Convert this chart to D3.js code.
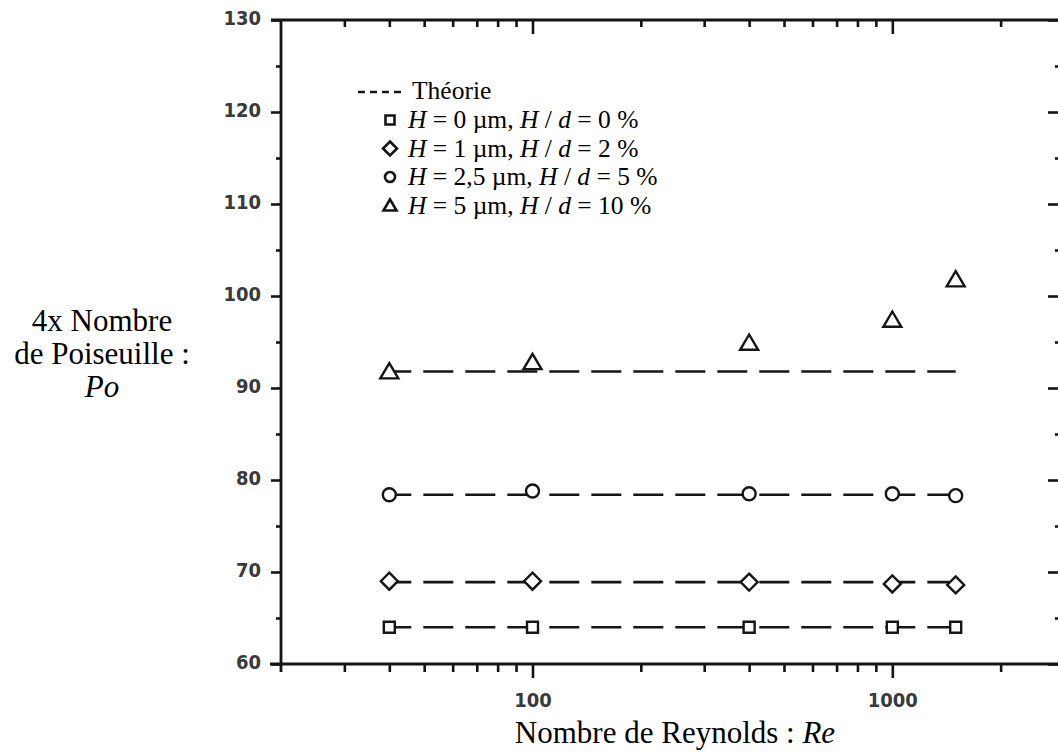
<!DOCTYPE html>
<html>
<head>
<meta charset="utf-8">
<script src="https://cdn.jsdelivr.net/npm/d3@7"></script>
<style>
  html, body { margin: 0; padding: 0; background: #fff; }
  svg { display: block; }
  .tick-label { font-family: "DejaVu Sans Condensed", "DejaVu Sans", sans-serif; font-stretch: condensed; font-weight: bold; font-size: 20px; fill: #3a3a3a; }
  .serif { font-family: "Liberation Serif", "Times New Roman", serif; fill: #000; }
</style>
</head>
<body>
<svg id="chart" width="1058" height="753"></svg>
<script>
// Reynolds numbers at which Po was measured
const reynolds = [40, 100, 400, 1000, 1500];
// Measured 4xPo for each roughness height
const poH0  = [64.0, 64.0, 64.0, 64.0, 64.0];
const poH1  = [69.0, 69.0, 68.9, 68.7, 68.6];
const poH25 = [78.4, 78.8, 78.5, 78.5, 78.3];
const poH5  = [91.8, 92.8, 94.9, 97.4, 101.8];
// Theoretical (laminar) values, drawn as dashed lines over the measured range
const theoryPo = [64.0, 68.9, 78.4, 91.8];
const theoryRe = [40, 1500];
// Axis ticks
const yMajorTicks = [60, 70, 80, 90, 100, 110, 120, 130];
const yMinorTicks = [65, 75, 85, 95, 105, 115, 125];
const xMajorTicks = [100, 1000];
const xMinorTicks = [30, 40, 50, 60, 70, 80, 90, 200, 300, 400, 500, 600, 700, 800, 900, 2000];
// Legend text (italic parts flagged)
const legendTheory = "Théorie";
const legendSeries = [
  [["H", 1], [" = 0 µm, ", 0], ["H", 1], [" / ", 0], ["d", 1], [" = 0 %", 0]],
  [["H", 1], [" = 1 µm, ", 0], ["H", 1], [" / ", 0], ["d", 1], [" = 2 %", 0]],
  [["H", 1], [" = 2,5 µm, ", 0], ["H", 1], [" / ", 0], ["d", 1], [" = 5 %", 0]],
  [["H", 1], [" = 5 µm, ", 0], ["H", 1], [" / ", 0], ["d", 1], [" = 10 %", 0]]
];
const yTitleLines = [[["4x Nombre", 0]], [["de Poiseuille :", 0]], [["Po", 1]]];
const xTitle = [["Nombre de Reynolds : ", 0], ["Re", 1]];

const svg = d3.select("#chart");
const INK = "#151515";

const x = d3.scaleLog().domain([20, 3000]).range([281, 1064]);
const y = d3.scaleLinear().domain([60, 130]).range([664, 20]);

// ---- marker shapes (custom d3 symbol types, size = half-width in px)
const shapes = {
  square: { draw(ctx, r) { ctx.rect(-r, -r, 2 * r, 2 * r); } },
  diamond: { draw(ctx, r) { ctx.moveTo(0, -r); ctx.lineTo(r, 0); ctx.lineTo(0, r); ctx.lineTo(-r, 0); ctx.closePath(); } },
  circle: { draw(ctx, r) { ctx.moveTo(r, 0); ctx.arc(0, 0, r, 0, 2 * Math.PI); } },
  triangle: { draw(ctx, r) { const h = r * 1.7; ctx.moveTo(0, -h * 0.55); ctx.lineTo(r, h * 0.45); ctx.lineTo(-r, h * 0.45); ctx.closePath(); } }
};
const symbolPath = (type, r) => d3.symbol().type(shapes[type]).size(r)();

const series = [
  { values: poH0, shape: "square", r: 5.5, lr: 4.5 },
  { values: poH1, shape: "diamond", r: 8.5, lr: 7 },
  { values: poH25, shape: "circle", r: 6.5, lr: 5 },
  { values: poH5, shape: "triangle", r: 9, lr: 6.5 }
];

// ---- theory lines
const line = d3.line().x(d => x(d[0])).y(d => y(d[1]));
svg.append("g").selectAll("path").data(theoryPo).join("path")
  .attr("d", v => line(theoryRe.map(re => [re, v])))
  .attr("fill", "none").attr("stroke", INK).attr("stroke-width", 2.6)
  .attr("stroke-dasharray", "30,12").attr("stroke-dashoffset", 8);

// ---- measured points
series.forEach(s => {
  svg.append("g").selectAll("path").data(reynolds.map((re, i) => [re, s.values[i]])).join("path")
    .attr("transform", d => `translate(${x(d[0])},${y(d[1])})`)
    .attr("d", symbolPath(s.shape, s.r))
    .attr("fill", "#fff").attr("stroke", INK).attr("stroke-width", 2.4);
});

// ---- axes
function styleAxis(g) {
  g.select(".domain").remove();
  g.selectAll(".tick line").attr("stroke", INK).attr("stroke-width", 2.6);
}
// left
svg.append("g").attr("transform", "translate(281,0)")
  .call(d3.axisLeft(y).tickValues(yMajorTicks).tickSize(10).tickPadding(10).tickFormat(d3.format("d")))
  .call(styleAxis)
  .call(g => g.selectAll("text").attr("class", "tick-label").attr("dy", "0.22em"));
svg.append("g").attr("transform", "translate(281,0)")
  .call(d3.axisLeft(y).tickValues(yMinorTicks).tickSize(5).tickFormat(""))
  .call(styleAxis);
// right (inward ticks)
svg.append("g").attr("transform", "translate(1064,0)")
  .call(d3.axisRight(y).tickValues(yMajorTicks).tickSize(-16).tickFormat(""))
  .call(styleAxis);
svg.append("g").attr("transform", "translate(1064,0)")
  .call(d3.axisRight(y).tickValues(yMinorTicks).tickSize(-9).tickFormat(""))
  .call(styleAxis);
// bottom
svg.append("g").attr("transform", "translate(0,664)")
  .call(d3.axisBottom(x).tickValues(xMajorTicks).tickSize(14).tickFormat(d3.format("d")))
  .call(styleAxis)
  .call(g => g.selectAll("text").attr("class", "tick-label").attr("y", 43).attr("dy", 0));
svg.append("g").attr("transform", "translate(0,664)")
  .call(d3.axisBottom(x).tickValues(xMinorTicks).tickSize(8).tickFormat(""))
  .call(styleAxis);
// top (inward ticks)
svg.append("g").attr("transform", "translate(0,20)")
  .call(d3.axisTop(x).tickValues(xMajorTicks).tickSize(-14).tickFormat(""))
  .call(styleAxis);
svg.append("g").attr("transform", "translate(0,20)")
  .call(d3.axisTop(x).tickValues(xMinorTicks).tickSize(-7).tickFormat(""))
  .call(styleAxis);

// ---- frame (lines run slightly past the corners)
const frame = svg.append("g").attr("stroke", INK).attr("stroke-width", 2.8).attr("stroke-linecap", "butt");
frame.append("line").attr("x1", 281).attr("x2", 281).attr("y1", y(130)).attr("y2", y(60) + 8);
frame.append("line").attr("x1", 270).attr("x2", x(3000)).attr("y1", y(60)).attr("y2", y(60));
frame.append("line").attr("x1", 271).attr("x2", x(3000)).attr("y1", y(130)).attr("y2", y(130));
frame.append("line").attr("x1", x(3000)).attr("x2", x(3000)).attr("y1", y(130)).attr("y2", y(60));

// ---- text helper with italic runs
function richText(sel, parts) {
  parts.forEach(([t, it]) => sel.append("tspan").text(t).attr("font-style", it ? "italic" : "normal"));
}

// ---- legend
const legend = svg.append("g").attr("class", "serif").attr("font-size", 25.5);
legend.append("line").attr("x1", 358).attr("x2", 404).attr("y1", 92).attr("y2", 92)
  .attr("stroke", INK).attr("stroke-width", 2.4).attr("stroke-dasharray", "7,5");
legend.append("text").attr("x", 412).attr("y", 99).text(legendTheory);
legendSeries.forEach((parts, i) => {
  const cy = 120 + i * 28.5;
  legend.append("path").attr("transform", `translate(390,${cy})`)
    .attr("d", symbolPath(series[i].shape, series[i].lr))
    .attr("fill", "#fff").attr("stroke", INK).attr("stroke-width", 2.6);
  richText(legend.append("text").attr("x", 408).attr("y", cy + 8), parts);
});

// ---- axis titles
yTitleLines.forEach((parts, i) => {
  richText(svg.append("text").attr("class", "serif").attr("font-size", 31)
    .attr("text-anchor", "middle").attr("x", 102).attr("y", 331 + i * 33), parts);
});
richText(svg.append("text").attr("class", "serif").attr("font-size", 31)
  .attr("text-anchor", "middle").attr("x", 675).attr("y", 743), xTitle);
</script>
</body>
</html>
